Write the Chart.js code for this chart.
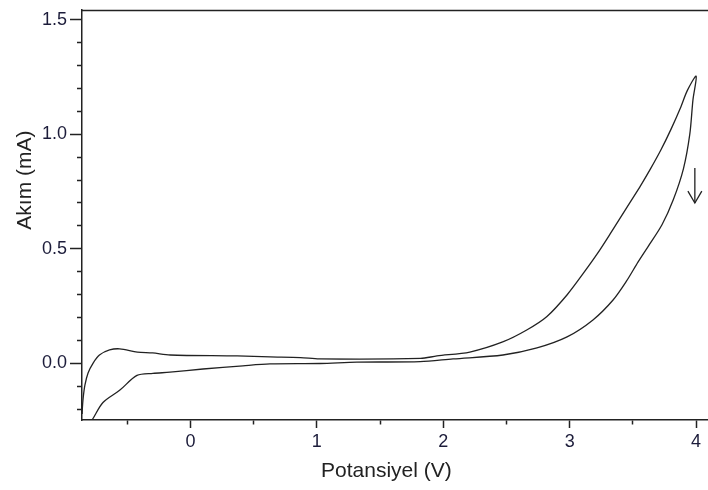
<!DOCTYPE html>
<html>
<head>
<meta charset="utf-8">
<script src="https://cdn.jsdelivr.net/npm/chart.js@4"></script>
<style>
    body { margin: 0; background: #fff; }
</style>
</head>
<body>
<canvas id="grafico" width="708" height="490"></canvas>
<script>
// barrido de ida (rama inferior), de izquierda a derecha
const potencialIda = [-0.795, -0.771, -0.692, -0.558, -0.423, -0.297, -0.162, 0.099, 0.415, 0.629, 1.025, 1.317, 1.816, 2.077, 2.472, 2.741, 2.979, 3.184, 3.343, 3.45, 3.54, 3.62, 3.73, 3.82, 3.90, 3.95, 3.975, 4.0];
const corrienteIda = [-0.262, -0.240, -0.170, -0.116, -0.052, -0.043, -0.038, -0.024, -0.010, -0.002, 0.0, 0.006, 0.008, 0.020, 0.037, 0.068, 0.116, 0.190, 0.277, 0.36, 0.442, 0.51, 0.605, 0.715, 0.85, 1.0, 1.15, 1.253];

// barrido de vuelta (rama superior), de derecha a izquierda
const potencialVuelta = [3.93, 3.88, 3.80, 3.72, 3.64, 3.56, 3.48, 3.40, 3.32, 3.22, 3.11, 2.98, 2.82, 2.66, 2.47, 2.21, 1.95, 1.82, 1.02, 0.87, 0.63, 0.37, -0.16, -0.30, -0.42, -0.56, -0.64, -0.72, -0.77, -0.81, -0.835, -0.848, -0.855, -0.857];
const corrienteVuelta = [1.19, 1.12, 1.02, 0.93, 0.85, 0.775, 0.705, 0.635, 0.565, 0.48, 0.395, 0.30, 0.205, 0.146, 0.094, 0.050, 0.033, 0.022, 0.020, 0.026, 0.029, 0.033, 0.037, 0.046, 0.050, 0.064, 0.059, 0.037, 0.002, -0.041, -0.094, -0.146, -0.194, -0.22];

// flecha de la dirección del barrido
const flechaX = [3.99, 3.99];
const flechaY = [0.853, 0.700];
const puntaX = [3.935, 3.99, 4.045];
const puntaY = [0.752, 0.700, 0.752];

const ejeX = { min: -0.858, max: 4.094, paso: 0.5 };
const ejeY = { min: -0.2464, max: 1.5417, paso: 0.1 };

const tituloX = 'Potansiyel (V)';
const tituloY = 'Akım (mA)';

const fuente = '"Liberation Sans", Arial, sans-serif';
const negro = '#222';

function puntos(xs, ys) {
    return xs.map((x, i) => ({ x: x, y: ys[i] }));
}

function esMultiplo(v, m) {
    return Math.abs(v / m - Math.round(v / m)) < 1e-6;
}

const curva = puntos(potencialIda, corrienteIda).concat(puntos(potencialVuelta, corrienteVuelta));

const linea = { showLine: true, borderColor: negro, borderWidth: 1.3, pointRadius: 0, fill: false };

// marco superior y titulos de los ejes
const extras = {
    id: 'extras',
    afterDraw(chart) {
        const ctx = chart.ctx;
        const area = chart.chartArea;
        const x = chart.scales.x;
        const y = chart.scales.y;
        ctx.save();
        ctx.strokeStyle = negro;
        ctx.lineWidth = 1.5;
        ctx.beginPath();
        ctx.moveTo(area.left, area.top + 0.5);
        ctx.lineTo(area.right, area.top + 0.5);
        ctx.stroke();

        ctx.fillStyle = negro;
        ctx.font = '21px ' + fuente;
        ctx.textAlign = 'center';
        ctx.textBaseline = 'middle';
        ctx.fillText(tituloX, x.getPixelForValue(1.55), 471);

        ctx.translate(25, y.getPixelForValue(0.8));
        ctx.rotate(-Math.PI / 2);
        ctx.fillText(tituloY, 0, 0);
        ctx.restore();
    }
};

const ctx = document.getElementById('grafico').getContext('2d');
const grafico = new Chart(ctx, {
    type: 'scatter',
    data: {
        datasets: [
            Object.assign({ data: curva, tension: 0.3 }, linea),
            Object.assign({ data: puntos(flechaX, flechaY) }, linea),
            Object.assign({ data: puntos(puntaX, puntaY) }, linea)
        ]
    },
    options: {
        responsive: false,
        animation: false,
        layout: { padding: { top: 10, right: 0, bottom: 0, left: 0 } },
        plugins: { legend: { display: false }, tooltip: { enabled: false } },
        scales: {
            x: {
                type: 'linear',
                min: ejeX.min,
                max: ejeX.max,
                afterFit: (s) => { s.height = 70; s.paddingLeft = 0; s.paddingRight = 0; },
                border: { display: true, color: negro, width: 1.5 },
                grid: {
                    drawOnChartArea: false,
                    tickLength: 8,
                    tickColor: negro,
                    tickWidth: 1.5,
                    tickBorderDash: (c) => esMultiplo(c.tick.value, 1) ? [] : [4, 100]
                },
                ticks: {
                    stepSize: ejeX.paso,
                    includeBounds: false,
                    autoSkip: false,
                    maxRotation: 0,
                    padding: 3,
                    color: '#1c1c3a',
                    font: { family: fuente, size: 18 },
                    callback: (v) => esMultiplo(v, 1) ? String(Math.round(v)) : ''
                }
            },
            y: {
                type: 'linear',
                min: ejeY.min,
                max: ejeY.max,
                afterFit: (s) => { s.width = 82; s.paddingTop = 0; s.paddingBottom = 0; },
                border: { display: true, color: negro, width: 1.5 },
                grid: {
                    drawOnChartArea: false,
                    tickLength: 12,
                    tickColor: negro,
                    tickWidth: 1.5,
                    tickBorderDash: (c) => esMultiplo(c.tick.value, 0.5) ? [] : [0, 7, 5, 100]
                },
                ticks: {
                    stepSize: ejeY.paso,
                    includeBounds: false,
                    autoSkip: false,
                    padding: 3,
                    color: '#1c1c3a',
                    font: { family: fuente, size: 18 },
                    callback: (v) => esMultiplo(v, 0.5) ? (Math.round(v * 10) / 10).toFixed(1) : ''
                }
            }
        }
    },
    plugins: [extras]
});
</script>
</body>
</html>
